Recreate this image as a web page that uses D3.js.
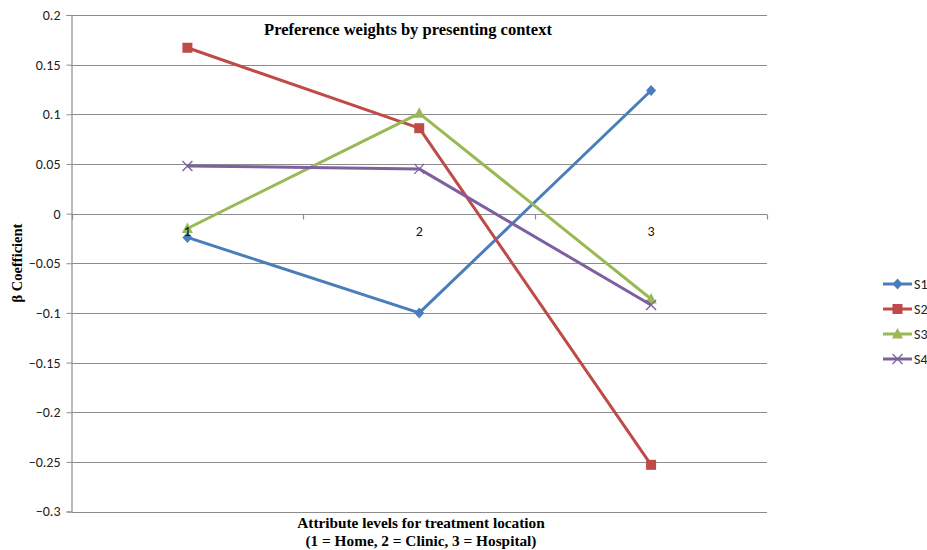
<!DOCTYPE html>
<html><head><meta charset="utf-8">
<script src="https://cdn.jsdelivr.net/npm/d3@7"></script>
<style>body{margin:0;background:#fff}svg{display:block}</style>
</head><body><svg id="c" width="927" height="550"></svg>
<script>
const categories = ["1", "2", "3"];
const seriesNames = ["S1", "S2", "S3", "S4"];
const S1 = [-0.024, -0.100, 0.124];
const S2 = [0.167, 0.086, -0.253];
const S3 = [-0.015, 0.101, -0.086];
const S4 = [0.048, 0.045, -0.092];
const yTicks = [0.2, 0.15, 0.1, 0.05, 0, -0.05, -0.1, -0.15, -0.2, -0.25, -0.3];
const colors = ["#4A7EBB", "#BE4B48", "#98B954", "#7D60A0"];
const symbols = ["diamond", "square", "triangle", "x"];

const svg = d3.select("#c");
const L = 71.5, R = 767, T = 15, B = 511.5;
const x = d3.scaleBand().domain(categories).range([L, R]);
const y = d3.scaleLinear().domain([-0.3, 0.2]).range([B, T]);
const cx = c => x(c) + x.bandwidth() / 2;
const tickFont = "Carlito, 'Open Sans', Calibri, sans-serif";

// gridlines
svg.append("g").selectAll("line").data(yTicks).join("line")
  .attr("x1", L).attr("x2", R)
  .attr("y1", d => Math.round(y(d)) + 0.5).attr("y2", d => Math.round(y(d)) + 0.5)
  .attr("stroke", "#8c8c8c").attr("stroke-width", 1.2);

// y axis
const yAxis = d3.axisLeft(y).tickValues(yTicks).tickSize(5).tickPadding(6)
  .tickFormat(d => d === 0 ? "0" : d3.format("")(+d.toFixed(2)));
const yg = svg.append("g").attr("transform", `translate(${L},0)`).call(yAxis);
yg.select(".domain").attr("stroke", "#8c8c8c").attr("stroke-width", 1.2);
yg.selectAll(".tick line").attr("stroke", "#8c8c8c");
yg.selectAll(".tick text").attr("font-family", tickFont)
  .attr("font-size", 14).attr("fill", "#222");

// band boundary ticks on zero line
const y0 = Math.round(y(0)) + 0.5;
const bounds = categories.map(c => x(c)).concat([R]);
svg.append("g").selectAll("line").data(bounds).join("line")
  .attr("x1", d => Math.round(d) + 0.5).attr("x2", d => Math.round(d) + 0.5)
  .attr("y1", y0).attr("y2", y0 + 5).attr("stroke", "#8c8c8c").attr("stroke-width", 1.2);

// series
const data = [S1, S2, S3, S4];
const line = d3.line().x((d, i) => cx(categories[i])).y(d => y(d));
function drawMarker(g, type, color) {
  if (type === "diamond") {
    g.append("path").attr("d", "M0,-5.5L5,0L0,5.5L-5,0Z").attr("fill", color);
  } else if (type === "square") {
    g.append("rect").attr("x", -5).attr("y", -5).attr("width", 10).attr("height", 10).attr("fill", color);
  } else if (type === "triangle") {
    g.append("path").attr("d", "M0,-6L5.5,4.5L-5.5,4.5Z").attr("fill", color);
  } else {
    g.append("path").attr("d", "M-5,-5L5,5M-5,5L5,-5").attr("stroke", color).attr("stroke-width", 1.3).attr("fill", "none");
  }
}
data.forEach((vals, s) => {
  svg.append("path").datum(vals).attr("d", line).attr("fill", "none")
    .attr("stroke", colors[s]).attr("stroke-width", 3).attr("stroke-linejoin", "round");
  vals.forEach((v, i) => {
    const g = svg.append("g").attr("transform", `translate(${cx(categories[i])},${y(v)})`);
    drawMarker(g, symbols[s], colors[s]);
  });
});

// x axis labels (drawn on top of series)
const xAxis = d3.axisBottom(x).tickSize(0).tickPadding(12);
const xg = svg.append("g").attr("transform", `translate(0,${y0})`).call(xAxis);
xg.select(".domain").remove();
xg.selectAll(".tick text").attr("font-family", tickFont)
  .attr("font-size", 14).attr("fill", "#111");

// title
svg.append("text").attr("x", 408).attr("y", 35).attr("text-anchor", "middle")
  .attr("font-family", "'Liberation Serif', 'Times New Roman', serif").attr("font-weight", "bold")
  .attr("font-size", 16.5).attr("fill", "#000").text("Preference weights by presenting context");

// y label
svg.append("text").attr("transform", "translate(22,263) rotate(-90)").attr("text-anchor", "middle")
  .attr("font-family", "'Liberation Serif', 'Times New Roman', serif").attr("font-weight", "bold")
  .attr("font-size", 14.5).attr("fill", "#000").text("β Coefficient");

// x label
const xl = svg.append("text").attr("text-anchor", "middle")
  .attr("font-family", "'Liberation Serif', 'Times New Roman', serif").attr("font-weight", "bold")
  .attr("font-size", 15.3).attr("fill", "#000");
xl.append("tspan").attr("x", 421).attr("y", 528).text("Attribute levels for treatment location");
xl.append("tspan").attr("x", 421).attr("y", 546).text("(1 = Home, 2 = Clinic, 3 = Hospital)");

// legend
const legY = [284, 309, 334, 359];
seriesNames.forEach((n, s) => {
  const g = svg.append("g").attr("transform", `translate(883,${legY[s]})`);
  g.append("line").attr("x1", 0).attr("x2", 29).attr("y1", 0).attr("y2", 0)
    .attr("stroke", colors[s]).attr("stroke-width", 3);
  const m = g.append("g").attr("transform", "translate(14.5,0)");
  drawMarker(m, symbols[s], colors[s]);
  g.append("text").attr("x", 31).attr("y", 5)
    .attr("font-family", tickFont).attr("font-size", 14)
    .attr("fill", "#222").text(n);
});
</script></body></html>
